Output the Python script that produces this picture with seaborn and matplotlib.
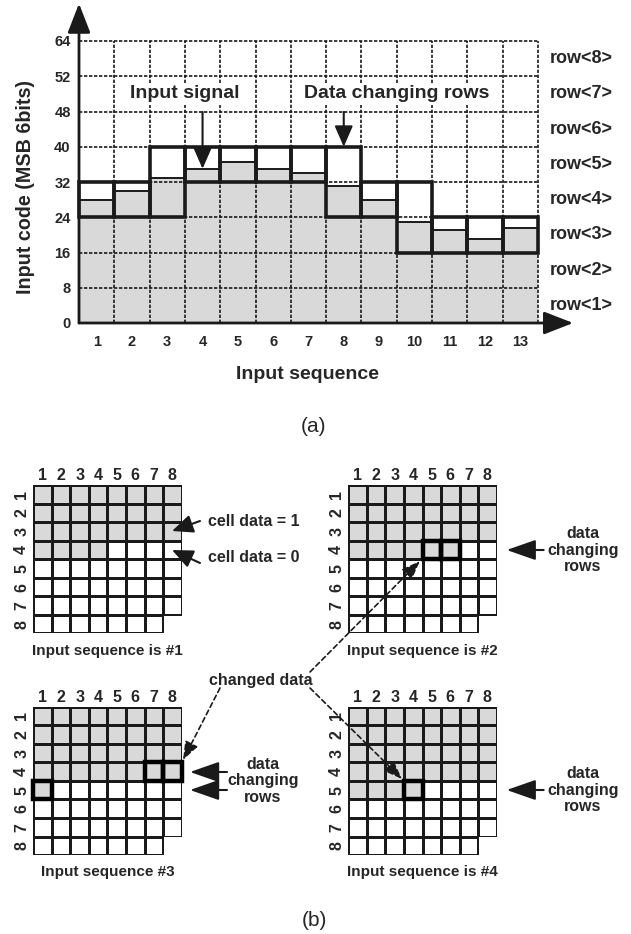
import numpy as np
import pandas as pd
import matplotlib
matplotlib.use("Agg")
import matplotlib.pyplot as plt
from matplotlib.colors import ListedColormap
from matplotlib.patches import Rectangle
import seaborn as sns

# ── data ────────────────────────────────────────────────────────────────────
seq = list(range(1, 14))
signal = [28, 30, 33, 35, 36.5, 35, 34, 31, 28, 23, 21, 19, 21.5]
box_lo = [24, 24, 24, 32, 32, 32, 32, 24, 24, 16, 16, 16, 16]
box_hi = [32, 32, 40, 40, 40, 40, 40, 40, 32, 32, 24, 24, 24]
code_ticks = [0, 8, 16, 24, 32, 40, 48, 56, 64]
code_labels = ["0", "8", "16", "24", "32", "40", "48", "52", "64"]
row_names = [f"row<{i}>" for i in range(1, 9)]

grid_counts = [28, 30, 33, 36]
grid_titles = ["Input sequence is #1", "Input sequence is #2",
               "Input sequence #3", "Input sequence is #4"]
grid_changed = [[], [(4, 5), (4, 6)], [(4, 7), (4, 8), (5, 1)], [(5, 4)]]

GRAY = "#d9d9d9"
W, H = 631, 934

sns.set_theme(style="white")
plt.rcParams["font.family"] = ["Liberation Sans", "DejaVu Sans"]
plt.rcParams["font.weight"] = "bold"

fig = plt.figure(figsize=(W / 100, H / 100), dpi=100)


def px_axes(x0, y0, x1, y1, **kw):
    return fig.add_axes([x0 / W, 1 - y1 / H, (x1 - x0) / W, (y1 - y0) / H], **kw)


# ── (a) input code vs sequence ──────────────────────────────────────────────
col_px, code_px = 35.3, 35.25 / 8
ax = px_axes(79, 3, 580, 323)
df = pd.DataFrame({"seq": seq, "signal": signal})
sns.barplot(data=df, x="seq", y="signal", color=GRAY, saturation=1, width=1,
            edgecolor="none", linewidth=0, ax=ax, zorder=1)
n = len(seq)
pos = np.arange(n)
ax.set_xlim(-0.5, -0.5 + 501 / col_px)
ax.set_ylim(0, 320 / code_px)
for s in ax.spines.values():
    s.set_visible(False)

dots = (0, (2, 1))
ax.vlines(pos + 0.5, 0, code_ticks[-1], colors="k", linestyles=dots, lw=1.2, zorder=2)
ax.hlines(code_ticks[1:], -0.5, n - 0.5, colors="k", linestyles=dots, lw=1.2, zorder=2)
ax.hlines(signal, pos - 0.5, pos + 0.5, colors="k", lw=1.4, zorder=3)
for i in range(n):
    ax.add_patch(Rectangle((i - 0.5, box_lo[i]), 1, box_hi[i] - box_lo[i], fill=False,
                           ec="k", lw=2.6, zorder=4, clip_on=False))

arr = dict(arrowstyle="-|>,head_length=0.9,head_width=0.35", lw=2, color="k",
           mutation_scale=20, shrinkA=0, shrinkB=0)
ax.annotate("", xy=(-0.5, 72.5), xytext=(-0.5, 0), arrowprops=arr, annotation_clip=False)
ax.annotate("", xy=(13.5, 0), xytext=(-0.5, 0), arrowprops=arr, annotation_clip=False)

ax.set_yticks(code_ticks, code_labels)
ax.set_xticks(pos, seq)
ax.tick_params(axis="y", length=0, pad=6, labelsize=10.5)
ax.tick_params(axis="x", length=0, pad=9, labelsize=10.5)
ax.set_xlabel("")
ax.set_ylabel("")

for i, name in enumerate(row_names):
    ax.text(12.84, 8 * i + 4, name, ha="left", va="center", fontsize=13, fontweight="bold")

small_arr = dict(arrowstyle="-|>,head_length=0.8,head_width=0.35", lw=1.5, color="k",
                 mutation_scale=16, shrinkA=0, shrinkB=0)
wbox = dict(fc="white", ec="none", pad=1.5)
ax.text(2.5, 52, "Input signal", ha="center", va="center", fontsize=14,
        fontweight="bold", zorder=6, bbox=wbox)
ax.annotate("", xy=(3, signal[3]), xytext=(3, 47.9), arrowprops=small_arr, zorder=6)
ax.text(8.51, 52, "Data changing rows", ha="center", va="center", fontsize=14,
        fontweight="bold", zorder=6, bbox=wbox)
ax.annotate("", xy=(7, box_hi[7]), xytext=(7, 47.9), arrowprops=small_arr, zorder=6)

fig.text(26 / W, 1 - 187 / H, "Input code (MSB 6bits)", rotation=90, ha="center",
         va="center", fontsize=14.2, fontweight="bold")
fig.text(308 / W, 1 - 375 / H, "Input sequence", ha="center", va="center",
         fontsize=14, fontweight="bold")
fig.text(313 / W, 1 - 427 / H, "(a)", ha="center", va="center", fontsize=15,
         fontweight="light")

# ── (b) cell arrays ─────────────────────────────────────────────────────────
cell = 18.55
origins = [(33.3, 485), (348.3, 485), (33.3, 706.7), (348.3, 706.7)]
cmap = ListedColormap(["white", GRAY])
for k, (x0, y0) in enumerate(origins):
    vals = (np.arange(64) < grid_counts[k]).astype(float).reshape(8, 8)
    vals[7, 7] = np.nan
    gdf = pd.DataFrame(vals, index=range(1, 9), columns=range(1, 9))
    g = px_axes(x0, y0, x0 + 8 * cell, y0 + 8 * cell)
    sns.heatmap(gdf, cmap=cmap, vmin=0, vmax=1, cbar=False, linewidths=0.9,
                linecolor="k", ax=g)
    g.xaxis.tick_top()
    g.tick_params(axis="x", length=0, pad=1.5, labelsize=11.5)
    g.tick_params(axis="y", length=0, pad=3, labelsize=11.5)
    g.set_yticklabels(g.get_yticklabels(), rotation=90, va="center")
    g.set_xticklabels(g.get_xticklabels(), rotation=0)
    g.add_patch(Rectangle((7.04, 7.04), 1.3, 1.3, fc="white", ec="none",
                          zorder=4, clip_on=False))
    for r, c in grid_changed[k]:
        g.add_patch(Rectangle((c - 1, r - 1), 1, 1, fill=False, ec="black", lw=3.2,
                              zorder=10, clip_on=False))
    g.text(4, 8.93, grid_titles[k], ha="center", va="center", fontsize=11,
           fontweight="bold")

ov = fig.add_axes([0, 0, 1, 1], zorder=10)
ov.set_xlim(0, W)
ov.set_ylim(H, 0)
ov.axis("off")
ov.patch.set_alpha(0)

fs = 11.5
ov.text(208, 522, "cell data = 1", ha="left", va="center", fontsize=fs, fontweight="bold")
ov.text(208, 558, "cell data = 0", ha="left", va="center", fontsize=fs, fontweight="bold")
ov.annotate("", xy=(172, 531), xytext=(200, 521), arrowprops=small_arr)
ov.annotate("", xy=(172, 550), xytext=(200, 563), arrowprops=small_arr)

big_arr = dict(arrowstyle="-|>,head_length=1.0,head_width=0.35", lw=1.5, color="k",
               mutation_scale=18, shrinkA=0, shrinkB=0)
for cx, cy, ys in [(583, 550, [550]), (583, 790, [790]), (263, 781, [772, 790])]:
    ov.text(cx, cy, "data\nchanging\nrows", ha="center", va="center", fontsize=fs,
            fontweight="bold", linespacing=1.15)
    for yy in ys:
        tip = 506.7 if cx > 400 else 190
        ov.annotate("", xy=(tip, yy), xytext=(tip + 37, yy), arrowprops=big_arr)

ov.text(261, 680, "changed data", ha="center", va="center", fontsize=fs, fontweight="bold")
dash_arr = dict(arrowstyle="-|>,head_length=0.8,head_width=0.3", lw=1.2, color="k",
                linestyle=(0, (3, 2)), mutation_scale=14, shrinkA=0, shrinkB=0)
ov.annotate("", xy=(420, 561), xytext=(310, 672), arrowprops=dash_arr)
ov.annotate("", xy=(402, 779), xytext=(310, 688), arrowprops=dash_arr)
ov.annotate("", xy=(183, 760), xytext=(220, 688), arrowprops=dash_arr)

fig.text(314 / W, 1 - 920 / H, "(b)", ha="center", va="center", fontsize=15,
         fontweight="light")

fig.savefig("out.png", dpi=100)
